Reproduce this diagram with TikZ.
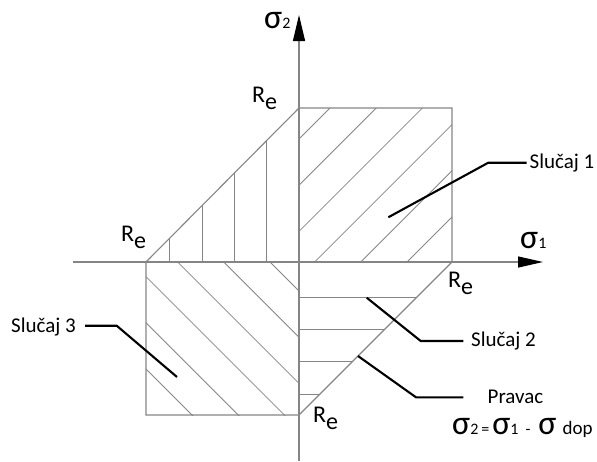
\documentclass[tikz,border=0pt]{standalone}
\usepackage{fontspec}
\setmainfont{Carlito}
\usetikzlibrary{arrows.meta}
\definecolor{lg}{HTML}{858585}
\newcommand{\sigbig}{{\fontsize{34}{34}\selectfont σ}}
\newcommand{\subs}[1]{{\fontsize{16}{16}\selectfont #1}}
\newcommand{\ReLab}{R\raisebox{-7pt}{e}}
\begin{document}
\begin{tikzpicture}[x=1pt,y=-1pt,
  outline/.style={draw=lg,line width=1.1pt},
  hatch/.style={draw=lg,line width=0.8pt},
  axis/.style={draw=lg,line width=1.2pt},
  leader/.style={draw=black,line width=2.1pt},
  lab/.style={anchor=base west,inner sep=0pt,font=\fontsize{21}{21}\selectfont},
  relab/.style={anchor=base west,inner sep=0pt,font=\fontsize{24}{24}\selectfont},
  siglab/.style={anchor=base west,inner sep=0pt}]
\useasboundingbox (0,0) rectangle (597,461);
% hatching: case 1 (upper right square)
\begin{scope}
  \clip (299,108) rectangle (452,262);
  \foreach \c in {438,484.2,530.4,576.6,622.8,669}
    \draw[hatch] ({\c-300},300) -- ({\c-100},100);
\end{scope}
% hatching: lower left square
\begin{scope}
  \clip (146,262) rectangle (299,415);
  \foreach \d in {8,-38.2,-84.4,-130.6,-176.8,-223}
    \draw[hatch] ({\d+250},250) -- ({\d+430},430);
\end{scope}
% hatching: upper left triangle
\begin{scope}
  \clip (146,262) -- (299,108) -- (299,262) -- cycle;
  \foreach \x in {266.7,234.4,202.1,169.8}
    \draw[hatch] (\x,262) -- (\x,100);
\end{scope}
% hatching: lower right triangle
\begin{scope}
  \clip (299,262) -- (452,262) -- (299,415) -- cycle;
  \foreach \y in {297,329.3,361.6,394}
    \draw[hatch] (299,\y) -- (460,\y);
\end{scope}
% outline
\draw[outline] (299,108) -- (452,108) -- (452,262) -- (299,415) -- (146,415) -- (146,262) -- cycle;
% axes
\coordinate (xs) at (73,262);
\coordinate (xe) at (543,262);
\coordinate (ys) at (299,461);
\coordinate (ye) at (299,15);
\draw[axis,-{Triangle[length=25pt,width=11pt,color=black]}] (xs) -- (xe);
\draw[axis,-{Triangle[length=26pt,width=12pt,color=black]}] (ys) -- (ye);
% axis labels
\node[siglab] (s1) at (520,248) {\sigbig\subs{1}};
\node[siglab] (s2) at (264,28) {\sigbig\subs{2}};
% Re labels
\node[relab] (reT) at (252,102) {\ReLab};
\node[relab] (reL) at (121,241) {\ReLab};
\node[relab] (reR) at (448,287) {\ReLab};
\node[relab] (reB) at (313,422) {\ReLab};
% case labels
\node[lab] (c1) at (529.5,168) {Slučaj 1};
\node[lab] (c2) at (471,346.5) {Slučaj 2};
\node[lab] (c3) at (11,332) {Slučaj 3};
\node[lab] (pr) at (487.5,403) {Pravac};
\node[siglab] (fo) at (452,434) {\sigbig\subs{2}\hspace{3pt}\subs{=}\hspace{3pt}\sigbig\subs{1}\hspace{7pt}\subs{-}\hspace{8pt}\sigbig\hspace{6pt}{\fontsize{19}{19}\selectfont dop}};
% leaders
\coordinate (a1) at (388.3,217.3);
\coordinate (b1) at (488.3,162.7);
\coordinate (e1) at (526.7,162.7);
\draw[leader] (a1) -- (b1) -- (e1);
\coordinate (a2) at (366.7,297.7);
\coordinate (b2) at (420.7,341);
\coordinate (e2) at (463.3,341);
\draw[leader] (a2) -- (b2) -- (e2);
\coordinate (a3) at (177,377);
\coordinate (b3) at (116.7,325.7);
\coordinate (e3) at (85,325.7);
\draw[leader] (a3) -- (b3) -- (e3);
\coordinate (a4) at (358,356);
\coordinate (b4) at (416,397.3);
\coordinate (e4) at (463.3,397.3);
\draw[leader] (a4) -- (b4) -- (e4);
\end{tikzpicture}
\end{document}
